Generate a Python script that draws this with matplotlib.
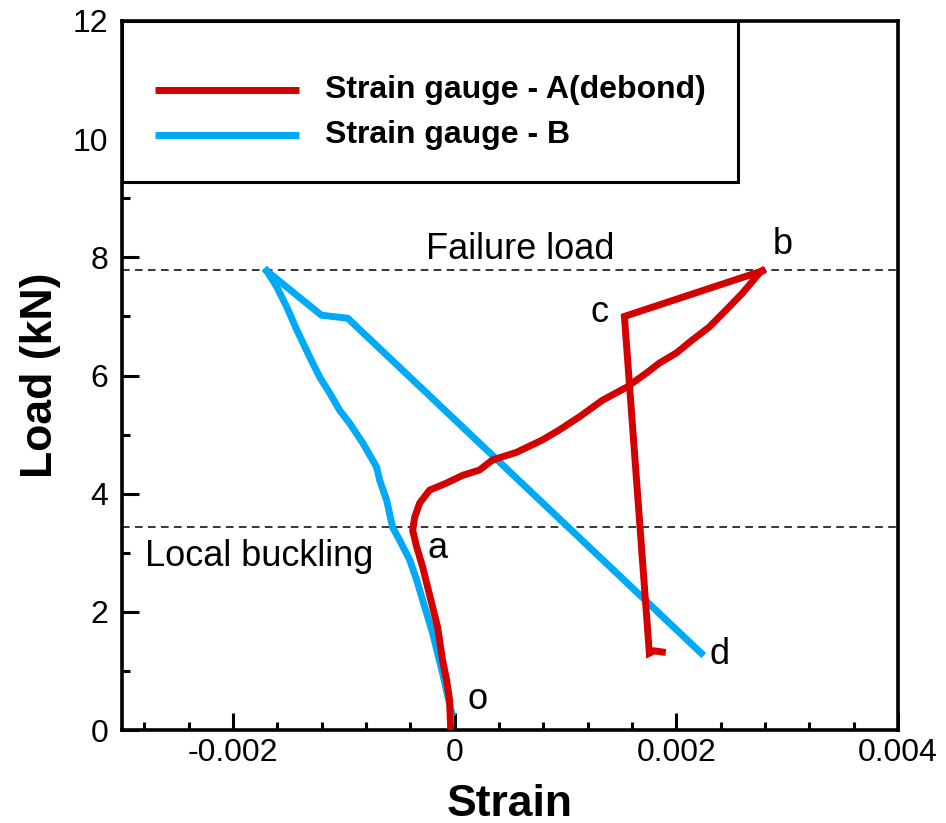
import matplotlib
matplotlib.use("Agg")
import matplotlib.pyplot as plt
from matplotlib.ticker import MultipleLocator, FixedLocator
from matplotlib.patches import Rectangle
from matplotlib.lines import Line2D

plt.rcParams['font.family'] = ['Liberation Sans', 'DejaVu Sans']

# ---- data -------------------------------------------------------------
# Strain gauge A (debonded side): loading path o -> a -> b
a_load_strain = [-0.036e-3, -0.045e-3, -0.072e-3, -0.108e-3, -0.153e-3, -0.198e-3,
                 -0.243e-3, -0.288e-3, -0.342e-3, -0.378e-3, -0.360e-3, -0.315e-3,
                 -0.225e-3, -0.072e-3, 0.072e-3, 0.225e-3, 0.342e-3, 0.559e-3,
                 0.793e-3, 0.946e-3, 1.126e-3, 1.333e-3, 1.550e-3, 1.730e-3,
                 1.847e-3, 2.000e-3, 2.144e-3, 2.297e-3, 2.450e-3, 2.595e-3,
                 2.748e-3, 2.775e-3]
a_load_kn = [0.05, 0.51, 0.85, 1.18, 1.74, 2.08, 2.42, 2.76, 3.10, 3.38, 3.60, 3.84,
             4.06, 4.18, 4.31, 4.40, 4.57, 4.70, 4.91, 5.08, 5.30, 5.58, 5.80, 6.04,
             6.21, 6.38, 6.60, 6.82, 7.11, 7.39, 7.73, 7.77]
# unloading path b -> c -> end
a_unload_strain = [2.775e-3, 1.532e-3, 1.757e-3, 1.800e-3, 1.874e-3]
a_unload_kn = [7.77, 7.00, 1.30, 1.34, 1.32]

# Strain gauge B: loading path
b_load_strain = [-0.027e-3, -0.108e-3, -0.198e-3, -0.288e-3, -0.342e-3, -0.405e-3,
                 -0.495e-3, -0.559e-3, -0.613e-3, -0.676e-3, -0.703e-3, -0.829e-3,
                 -0.946e-3, -1.036e-3, -1.126e-3, -1.216e-3, -1.306e-3, -1.423e-3,
                 -1.514e-3, -1.604e-3, -1.694e-3]
b_load_kn = [0.29, 0.96, 1.64, 2.20, 2.54, 2.88, 3.21, 3.43, 3.89, 4.23, 4.45, 4.86,
             5.19, 5.41, 5.70, 5.97, 6.31, 6.77, 7.16, 7.50, 7.77]
# unloading path -> d
b_unload_strain = [-1.694e-3, -1.201e-3, -0.964e-3, 2.225e-3]
b_unload_kn = [7.77, 7.02, 6.97, 1.30]

series_labels = ["Strain gauge - A(debond)", "Strain gauge - B"]
series_colors = ["#D40000", "#00AAF5"]

failure_load = 7.78
buckling_load = 3.43

point_labels = ["o", "a", "b", "c", "d"]
point_xy = [(0.00021, 0.51), (-0.00015, 3.08), (0.00296, 8.21), (0.00131, 7.06),
            (0.00239, 1.27)]

# ---- figure -----------------------------------------------------------
fig = plt.figure(figsize=(9.46, 8.23), dpi=100)
ax = fig.add_axes([122 / 946, 1 - 730 / 823, 776 / 946, 709 / 823])

ax.set_xlim(-0.003, 0.004)
ax.set_ylim(0, 12)

lw_curve = 5.0
ax.plot(a_load_strain, a_load_kn, color=series_colors[0], lw=lw_curve,
        solid_joinstyle='round', zorder=3)
ax.plot(a_unload_strain, a_unload_kn, color=series_colors[0], lw=lw_curve,
        solid_joinstyle='miter', zorder=3)
ax.plot(b_load_strain, b_load_kn, color=series_colors[1], lw=lw_curve,
        solid_joinstyle='round', zorder=2)
ax.plot(b_unload_strain, b_unload_kn, color=series_colors[1], lw=lw_curve,
        solid_joinstyle='miter', zorder=2)

# reference load levels
for yv in (failure_load, buckling_load):
    ax.axhline(yv, color='black', lw=1.1, ls=(0, (5, 3.5)), zorder=1)

ax.text(0.000595, failure_load + 0.06, "Failure load", fontsize=26,
        ha='center', va='bottom')
ax.text(-0.00176, buckling_load - 0.2, "Local buckling", fontsize=26,
        ha='center', va='top')
for lab, (px, py) in zip(point_labels, point_xy):
    ax.text(px, py, lab, fontsize=26, ha='center', va='center')

# ---- axes styling -----------------------------------------------------
for s in ax.spines.values():
    s.set_linewidth(2.6)
ax.xaxis.set_major_locator(FixedLocator([-0.002, 0, 0.002, 0.004]))
ax.xaxis.set_minor_locator(MultipleLocator(0.0004))
ax.yaxis.set_major_locator(MultipleLocator(2))
ax.yaxis.set_minor_locator(MultipleLocator(1))
ax.set_xticklabels(["-0.002", "0", "0.002", "0.004"])
ax.tick_params(which='both', direction='in', top=False, right=False,
               labelsize=23, width=2.2)
ax.tick_params(which='major', length=12)
ax.tick_params(axis='x', which='major', pad=6)
ax.tick_params(axis='y', which='major', pad=10)
ax.tick_params(which='minor', length=6)

ax.set_xlabel("Strain", fontsize=32, fontweight='bold', labelpad=11)
ax.set_ylabel("Load (kN)", fontsize=32, fontweight='bold', labelpad=8)

# ---- legend box -------------------------------------------------------
x0, x1 = 0.0, (738 - 122) / 776
y1, y0 = 1.0, 1 - (182 - 21) / 709
ax.add_patch(Rectangle((x0, y0), x1 - x0, y1 - y0, transform=ax.transAxes,
                       facecolor='white', edgecolor='black', lw=2.2, zorder=5))
rows_y = [1 - (90 - 21) / 709, 1 - (135 - 21) / 709]
hx0, hx1 = (155 - 122) / 776, (299 - 122) / 776
tx = (325 - 122) / 776
for lab, col, ry in zip(series_labels, series_colors, rows_y):
    ax.add_line(Line2D([hx0, hx1], [ry, ry], transform=ax.transAxes,
                       color=col, lw=5, solid_capstyle='butt', zorder=6))
    ax.text(tx, ry, lab, transform=ax.transAxes, fontsize=23,
            fontweight='bold', ha='left', va='center', zorder=6)

fig.savefig("out.png", dpi=100)
